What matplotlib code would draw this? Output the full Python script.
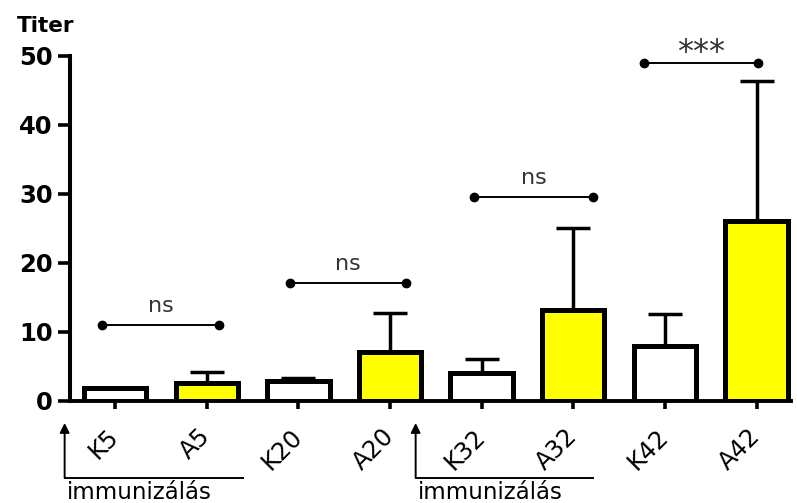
import numpy as np
import matplotlib
matplotlib.use('Agg')
import matplotlib.pyplot as plt
from matplotlib.transforms import blended_transform_factory, ScaledTranslation

plt.rcParams['font.family'] = ['DejaVu Sans']

groups = ['K5', 'A5', 'K20', 'A20', 'K32', 'A32', 'K42', 'A42']
means = [1.8, 2.6, 2.9, 7.1, 4.1, 13.1, 7.9, 26.0]
errors = [0.0, 1.6, 0.4, 5.6, 1.9, 11.9, 4.7, 20.3]
fills = ['white', 'yellow', 'white', 'yellow', 'white', 'yellow', 'white', 'yellow']

# significance brackets: (left x, right x, height, label)
brackets = [
    (-0.14, 1.13, 11.0, 'ns'),
    (1.91, 3.17, 17.1, 'ns'),
    (3.92, 5.21, 29.6, 'ns'),
    (5.77, 7.01, 49.0, '***'),
]
# immunization markers: (arrow x, line end x)
immunizations = [(-0.55, 1.40), (3.28, 5.22)]
immun_label = 'immunizálás'

fig = plt.figure(figsize=(7.97, 5.03), dpi=100)
ax = fig.add_axes([0.088, 0.203, 0.905, 0.686])

x = np.arange(len(groups))
ax.errorbar(x, means, yerr=[np.zeros(len(errors)), errors], fmt='none',
            ecolor='black', elinewidth=2.5, capsize=12, capthick=2.5, zorder=1)
ax.bar(x, means, width=0.68, color=fills, edgecolor='black', linewidth=3.6, zorder=2)

for x0, x1, h, lab in brackets:
    ax.plot([x0, x1], [h, h], color='black', lw=1.4, marker='o', ms=6, zorder=3)
    if lab == 'ns':
        ax.text((x0 + x1) / 2, h + 1.9, lab, ha='center', va='baseline',
                fontsize=16, color='#333333')
    else:
        ax.text((x0 + x1) / 2, h + 0.3, lab, ha='center', va='baseline',
                fontsize=23, color='#333333')

ax.set_xlim(-0.49, 7.38)
ax.set_ylim(0, 50)
ax.set_yticks([0, 10, 20, 30, 40, 50])
ax.set_xticks(x)
ax.set_xticklabels(groups, rotation=45, ha='right', va='center',
                   rotation_mode='anchor', fontsize=17.5)
# nudge the slanted labels a little to the right of their ticks
shift = ScaledTranslation(5 / 72, 0, fig.dpi_scale_trans)
for lbl in ax.get_xticklabels():
    lbl.set_transform(lbl.get_transform() + shift)
for lbl in ax.get_yticklabels():
    lbl.set_fontweight('bold')
    lbl.set_fontsize(17.5)
ax.tick_params(axis='y', direction='out', length=9, width=2.6, pad=3.5)
ax.tick_params(axis='x', direction='out', length=6, width=2.6, pad=17)

for side in ('top', 'right'):
    ax.spines[side].set_visible(False)
ax.spines['left'].set_linewidth(2.9)
ax.spines['bottom'].set_linewidth(2.8)

ax.text(-0.0735, 1.0696, 'Titer', transform=ax.transAxes, fontsize=15.5,
        fontweight='bold', ha='left', va='baseline')

trans = blended_transform_factory(ax.transData, ax.transAxes)
for xa, xe in immunizations:
    ax.annotate('', xy=(xa, -0.064), xytext=(xa, -0.223), xycoords=trans,
                textcoords=trans,
                arrowprops=dict(arrowstyle='-|>', color='black', lw=1.4,
                                mutation_scale=14, shrinkA=0, shrinkB=0),
                annotation_clip=False)
    ax.plot([xa, xe], [-0.223, -0.223], color='black', lw=1.4, transform=trans,
            clip_on=False)
    ax.text(xa + 0.02, -0.285, immun_label, transform=trans, fontsize=16.5,
            ha='left', va='baseline')

fig.savefig('out.png', dpi=100)
